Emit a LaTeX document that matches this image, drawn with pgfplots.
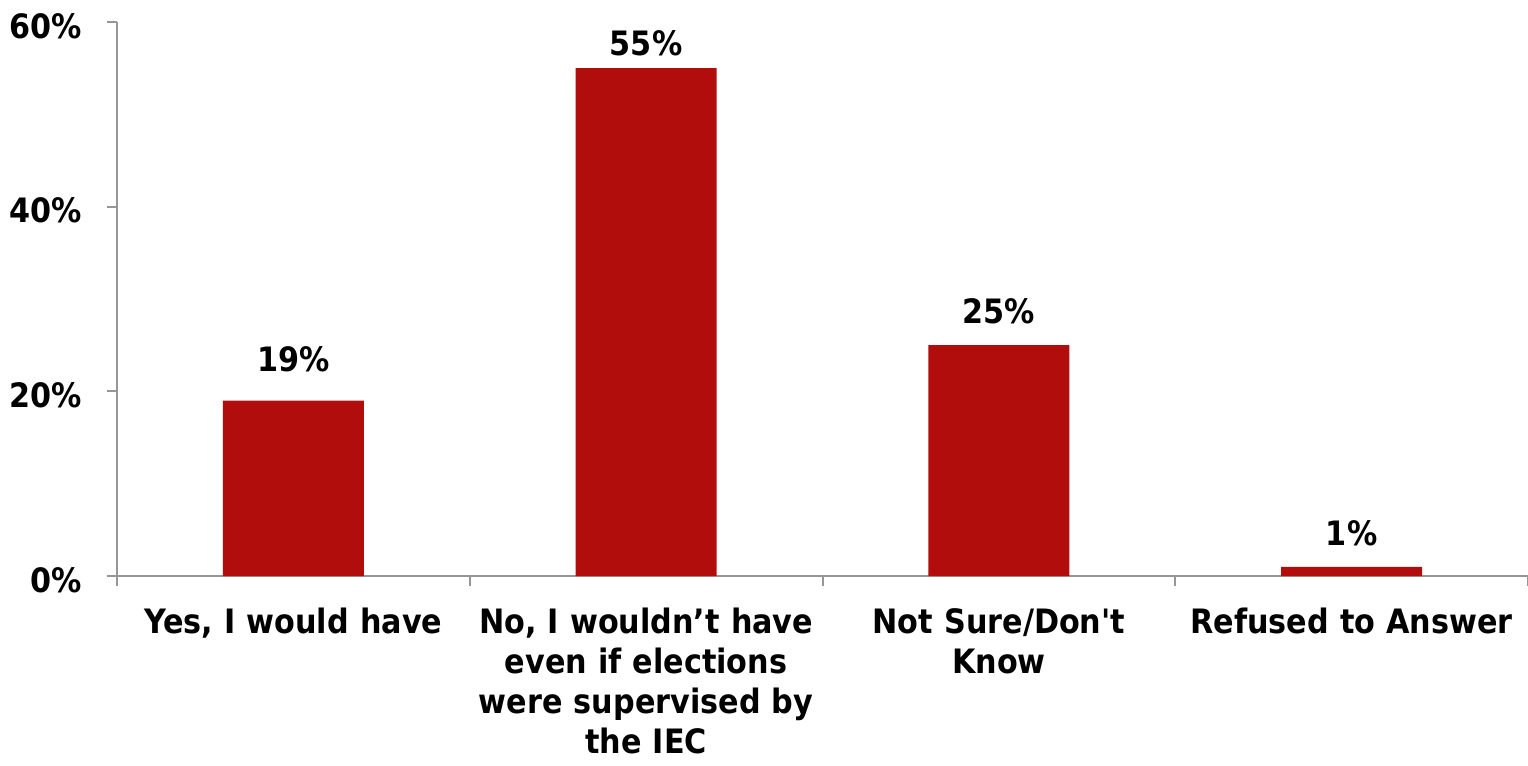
\documentclass[border=0pt]{standalone}
\usepackage{fontspec}
\setmainfont{DejaVu Sans Condensed}
\usepackage{pgfplots}
\pgfplotsset{compat=1.18}
\definecolor{barred}{RGB}{178,13,13}
\definecolor{axgray}{RGB}{150,150,150}
\begin{document}
\begin{tikzpicture}
\begin{axis}[
  scale only axis, width=705.5pt, height=277pt,
  xmin=-0.5, xmax=3.5, ymin=0, ymax=60,
  axis x line*=bottom, axis y line*=left,
  axis line style={draw=axgray, line width=1pt},
  xtick={0,1,2,3},
  xticklabels={{Yes, I would have},{No, I wouldn’t have\\even if elections\\were supervised by\\the IEC},{Not Sure/Don\textquotesingle t\\Know},{Refused to Answer}},
  major x tick style={draw=none},
  minor xtick={-0.5,0.5,1.5,2.5,3.5},
  minor x tick style={draw=axgray, line width=1pt},
  ytick={0,20,40,60},
  y tick style={draw=axgray, line width=1pt},
  tick align=outside, major tick length=5pt, minor tick length=5pt,
  yticklabel={\pgfmathprintnumber{\tick}\%},
  /pgf/number format/assume math mode=true,
  ticklabel style={font=\bfseries\fontsize{16.8}{20}\selectfont, text=black},
  x tick label style={align=center, text width=180pt, anchor=north, yshift=-7.5pt},
  y tick label style={xshift=-9pt, yshift=-2pt},
]
\addplot[ybar, bar width=0.4, fill=barred, draw=none,
  visualization depends on={\thisrow{off}\as\myoff},
  nodes near coords={\pgfmathprintnumber{\pgfplotspointmeta}\%},
  every node near coord/.append style={font=\bfseries\fontsize{16.8}{20}\selectfont, text=black, anchor=south, inner sep=0pt, yshift=\myoff pt},
] table {
x y off
0 19 14
1 55 6
2 25 10.5
3 1 10
};
\end{axis}
\pgfresetboundingbox
\path[use as bounding box] (-58.5pt,-95pt) rectangle (705.5pt,288pt);
\end{tikzpicture}
\end{document}
